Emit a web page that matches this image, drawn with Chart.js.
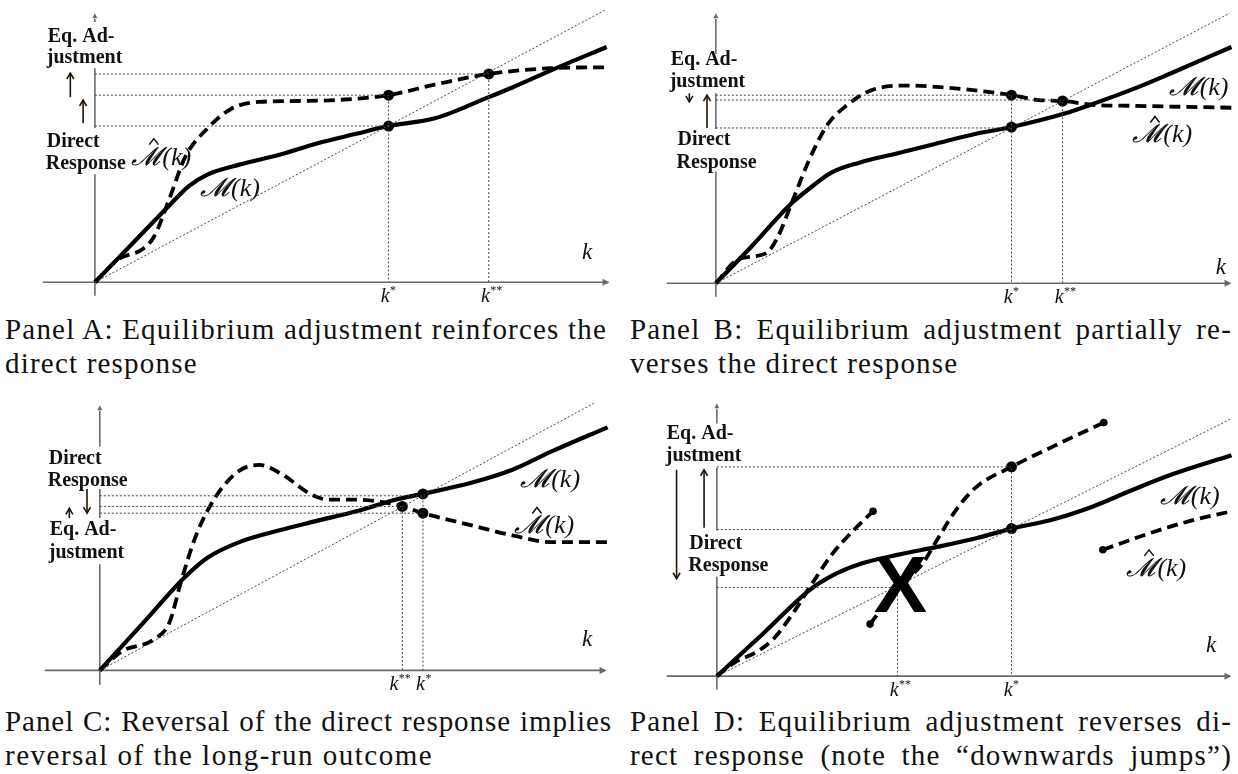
<!DOCTYPE html>
<html>
<head>
<meta charset="utf-8">
<script src="https://cdn.jsdelivr.net/npm/chart.js@4.4.1/dist/chart.umd.min.js"></script>
<style>
  body { margin: 0; background: #fff; width: 1238px; height: 774px; position: relative; overflow: hidden; }
  canvas { position: absolute; }
  .cap { position: absolute; font-family: "Liberation Serif", serif; font-size: 29px; line-height: 30px; letter-spacing: 1.2px; color: #111; white-space: nowrap; }
  .cap.j { text-align: justify; text-align-last: justify; }
</style>
</head>
<body>
<canvas id="panelA" width="620" height="310" style="left:0;top:0"></canvas>
<canvas id="panelB" width="618" height="310" style="left:620px;top:0"></canvas>
<canvas id="panelC" width="620" height="310" style="left:0;top:390px"></canvas>
<canvas id="panelD" width="618" height="310" style="left:620px;top:390px"></canvas>

<div class="cap j" style="left:5px;top:314px;width:600px">Panel A: Equilibrium adjustment reinforces the</div>
<div class="cap" style="left:5px;top:348px">direct response</div>
<div class="cap j" style="left:630px;top:314px;width:602px">Panel B: Equilibrium adjustment partially re-</div>
<div class="cap" style="left:630px;top:348px">verses the direct response</div>
<div class="cap j" style="left:5px;top:706px;width:607px;letter-spacing:0.95px">Panel C: Reversal of the direct response implies</div>
<div class="cap" style="left:5px;top:740px;letter-spacing:1.5px">reversal of the long-run outcome</div>
<div class="cap j" style="left:630px;top:706px;width:602px">Panel D: Equilibrium adjustment reverses di-</div>
<div class="cap j" style="left:630px;top:740px;width:602px">rect response (note the “downwards jumps”)</div>

<script>

// Panel A
const aSolid = [[0,0],[39,41],[76,80],[96,100],[115,112],[147,122],[187,132],[226,144],[266,154],[299,162],[346,170],[401,192],[425,202],[465,220],[521,244]];
const aDashed = [[0,0],[24,24],[48,34],[60,47],[76,87],[92,130],[115,160],[139,180],[167,187],[207,188],[246,189],[299,194],[346,205],[401,216],[465,222],[522,223]];
const aDiagonal = [[0,0],[519,282]];
const aDots = [[299,162],[299,194],[401,216]];
const aGuides = [[[0,216],[401,216],[401,0]], [[0,194],[299,194],[299,0]], [[0,162],[299,162]]];
const aKTicks = [['*',299,1],['**',401,1]];

// Panel B
const bSolid = [[0,0],[38,40],[75,81],[95,98],[118,115],[146,125],[186,135],[225,145],[265,155],[301,162],[355,176],[384,186],[424,201],[464,218],[525,245]];
const bDashed = [[0,0],[23,25],[51,31],[63,48],[79,88],[95,128],[114,165],[134,185],[158,200],[194,205],[233,203],[273,199],[301,195],[329,190],[353,189],[384,185],[424,184],[525,182]];
const bDiagonal = [[0,0],[523,280]];
const bDots = [[301,162],[301,195],[353,189]];
const bGuides = [[[0,195],[301,195],[301,0]], [[0,190],[353,190],[353,0]], [[0,161],[301,161]]];
const bKTicks = [['*',301,1],['**',353,1]];

// Panel C
const cSolid = [[0,0],[44,49],[87,97],[110,117],[142,133],[182,145],[221,155],[261,165],[301,177],[329,183],[380,195],[420,208],[460,227],[517,252]];
const cDashed = [[0,0],[23,20],[55,32],[71,50],[83,93],[98,140],[118,180],[142,207],[162,213],[186,203],[214,183],[233,177],[261,177],[285,175],[308,170],[329,163],[380,150],[420,140],[460,133],[517,133]];
const cDiagonal = [[0,0],[503,277]];
const cDots = [[329,183],[308,170],[329,163]];
const cGuides = [[[0,181],[329,181],[329,0]], [[0,170],[308,170],[308,0]], [[0,163],[329,163]]];
const cKTicks = [['**',308,-4],['*',329,2]];

// Panel D
const dSolid = [[0,0],[47,44],[94,89],[117,104],[145,116],[185,126],[224,134],[264,143],[300,153],[344,163],[383,176],[423,193],[463,209],[524,229]];
const dDashedLow = [[0,0],[18,14],[42,26],[58,39],[78,66],[97,96],[117,126],[137,149],[159,171]];
const dDashedMid = [[156,54],[185,93],[209,116],[224,141],[244,173],[264,196],[300,217],[344,239],[394,263]];
const dDashedHigh = [[393,131],[443,149],[482,161],[524,171]];
const dDiagonal = [[0,0],[524,267]];
const dDots = [[300,153],[300,217]];
const dEnds = [[159,171],[156,54],[394,263],[393,131]];
const dGuides = [[[0,217],[300,217],[300,0]], [[0,152],[300,152]], [[0,92],[184,92],[184,0]]];
const dKTicks = [['**',184,1],['*',300,1]];

const toPts = arr => arr.map(([x, y]) => ({ x, y }));

const INK = '#000';
const AXIS = '#6a6a6a';
const DOT = '#444';
const ARROW = '#231505';

function curve(data, dashed) {
  return {
    data: toPts(data), showLine: true, borderColor: INK, borderWidth: dashed ? 3.8 : 4.2,
    borderDash: dashed ? [11, 6] : [], pointRadius: 0, cubicInterpolationMode: 'monotone', borderCapStyle: 'butt'
  };
}
function thin(data) {
  return { data: toPts(data), showLine: true, borderColor: DOT, borderWidth: 1, borderDash: [2, 2], pointRadius: 0, tension: 0 };
}
function dots(data, r) {
  return { data: toPts(data), showLine: false, pointRadius: r, pointBackgroundColor: INK, pointBorderWidth: 0 };
}

// axes, arrows and labels drawn on top of the library scales
const sketch = {
  id: 'sketch',
  beforeDatasetsDraw(chart, args, o) {
    const { ctx, scales: { x, y } } = chart;
    const X = v => x.getPixelForValue(v), Y = v => y.getPixelForValue(v);
    ctx.save();
    ctx.strokeStyle = AXIS; ctx.fillStyle = AXIS; ctx.lineWidth = 1.6;
    // k axis
    const xr = X(o.xAxis[1]);
    ctx.beginPath(); ctx.moveTo(X(o.xAxis[0]), Y(0)); ctx.lineTo(xr - 2, Y(0)); ctx.stroke();
    ctx.beginPath(); ctx.moveTo(xr, Y(0)); ctx.lineTo(xr - 7, Y(0) - 3.5); ctx.lineTo(xr - 7, Y(0) + 3.5); ctx.closePath(); ctx.fill();
    // vertical axis with gaps where the text sits
    const yt = Y(o.yAxis[1]);
    let cuts = [o.yAxis[0], ...o.gaps.flat(), o.yAxis[1] - 6];
    for (let i = 0; i < cuts.length; i += 2) {
      ctx.beginPath(); ctx.moveTo(X(0), Y(cuts[i])); ctx.lineTo(X(0), Y(cuts[i + 1])); ctx.stroke();
    }
    ctx.lineWidth = 1.2;
    ctx.beginPath(); ctx.moveTo(X(0), yt); ctx.lineTo(X(0) - 2.5, yt + 5); ctx.lineTo(X(0) + 2.5, yt + 5); ctx.closePath(); ctx.fill();
    ctx.restore();
  },
  afterDatasetsDraw(chart, args, o) {
    const { ctx, scales: { x, y } } = chart;
    const X = v => x.getPixelForValue(v), Y = v => y.getPixelForValue(v);
    ctx.save();
    ctx.fillStyle = '#111';
    ctx.textBaseline = 'alphabetic';
    ctx.font = 'bold 20px "Liberation Serif"';
    ctx.textAlign = 'left';
    o.texts.forEach(([s, tx, ty]) => ctx.fillText(s, X(tx), Y(ty)));

    // k axis label
    ctx.font = 'italic 23px "Liberation Serif"';
    ctx.fillText('k', X(o.kLabel[0]), Y(o.kLabel[1]));

    // k* / k** under the axis
    o.kTicks.forEach(([stars, kx, dx]) => {
      const px = X(kx) + dx;
      ctx.font = 'italic 20px "Liberation Serif"';
      ctx.textAlign = 'right';
      ctx.fillText('k', px, Y(0) + 20);
      ctx.font = '12px "Liberation Serif"';
      ctx.textAlign = 'left';
      ctx.fillText(stars, px + 0.5, Y(0) + 12);
    });

    // M(k) and M-hat(k)
    ctx.textAlign = 'left';
    o.mLabels.forEach(([hat, mx, my]) => {
      const px = X(mx), py = Y(my);
      ctx.font = 'italic 26px "Liberation Serif"';
      ctx.fillText('𝓜', px, py);
      const w = ctx.measureText('𝓜').width;
      ctx.fillText('(k)', px + w + 2, py);
      if (hat) {
        ctx.strokeStyle = '#111'; ctx.lineWidth = 1.5;
        ctx.beginPath();
        ctx.moveTo(px + w * 0.62, py - 20); ctx.lineTo(px + w * 0.78, py - 26); ctx.lineTo(px + w * 0.94, py - 20);
        ctx.stroke();
      }
    });

    // small vertical arrows beside the labels
    ctx.strokeStyle = ARROW; ctx.lineWidth = 1.6;
    o.arrows.forEach(([ax, from, to]) => {
      const px = X(ax), p0 = Y(from), p1 = Y(to);
      const d = p1 < p0 ? 1 : -1;
      ctx.beginPath(); ctx.moveTo(px, p0); ctx.lineTo(px, p1); ctx.stroke();
      ctx.beginPath(); ctx.moveTo(px - 3.5, p1 + d * 6); ctx.lineTo(px, p1); ctx.lineTo(px + 3.5, p1 + d * 6); ctx.stroke();
    });

    // the crossed-out jump in panel D
    if (o.cross) {
      ctx.fillStyle = '#000';
      ctx.font = 'bold 80px "Liberation Sans"';
      ctx.textAlign = 'center'; ctx.textBaseline = 'middle';
      ctx.fillText('X', X(o.cross[0]), Y(o.cross[1]) + 3);
    }
    ctx.restore();
  }
};

function makePanel(id, ox, oy, w, h, datasets, marks) {
  new Chart(document.getElementById(id), {
    type: 'scatter',
    data: { datasets },
    options: {
      responsive: false, animation: false, events: [],
      layout: { padding: 0 },
      plugins: { legend: { display: false }, tooltip: { enabled: false }, sketch: marks },
      scales: {
        x: { type: 'linear', display: false, min: -ox, max: w - ox },
        y: { type: 'linear', display: false, min: oy - h, max: oy }
      }
    },
    plugins: [sketch]
  });
}

makePanel('panelA', 91, 287, 620, 310, [
  thin(aDiagonal), ...aGuides.map(thin), curve(aDashed, true), curve(aSolid, false), dots(aDots, 5.5)
], {
  xAxis: [-53, 524], yAxis: [-14, 279], gaps: [[112, 160], [222, 270]],
  texts: [['Eq. Ad-', -48, 249], ['justment', -49, 227], ['Direct', -49, 140], ['Response', -50, 117]],
  arrows: [[-25, 192, 217], [-12, 165, 189]],
  kLabel: [496, 24], kTicks: aKTicks,
  mLabels: [[true, 37, 122], [false, 107, 90]]
});

makePanel('panelB', 92, 288, 618, 310, [
  thin(bDiagonal), ...bGuides.map(thin), curve(bDashed, true), curve(bSolid, false), dots(bDots, 5.5)
], {
  xAxis: [-50, 525], yAxis: [-14, 280], gaps: [[116, 160], [197, 238]],
  texts: [['Eq. Ad-', -46, 226], ['justment', -47, 203], ['Direct', -39, 143], ['Response', -40, 120]],
  arrows: [[-27, 197, 188], [-9, 161, 195]],
  kLabel: [509, 10], kTicks: bKTicks,
  mLabels: [[false, 461, 195], [true, 424, 146]]
});

makePanel('panelC', 96, 285, 620, 310, [
  thin(cDiagonal), ...cGuides.map(thin), curve(cDashed, true), curve(cSolid, false), dots(cDots, 5.5)
], {
  xAxis: [-56, 516], yAxis: [-15, 275], gaps: [[110, 158], [188, 232]],
  texts: [['Direct', -52, 214], ['Response', -53, 191], ['Eq. Ad-', -51, 140], ['justment', -52, 117]],
  arrows: [[-13, 188, 163], [-31, 158, 168]],
  kLabel: [491, 25], kTicks: cKTicks,
  mLabels: [[false, 428, 190], [true, 422, 142]]
});

makePanel('panelD', 93, 291, 618, 310, [
  thin(dDiagonal), ...dGuides.map(thin), curve(dDashedLow, true), curve(dDashedMid, true), curve(dDashedHigh, true),
  curve(dSolid, false), dots(dDots, 5.5), dots(dEnds, 3.8)
], {
  xAxis: [-51, 524], yAxis: [-14, 283], gaps: [[103, 151], [216, 262]],
  texts: [['Eq. Ad-', -51, 246], ['justment', -52, 223], ['Direct', -28, 132], ['Response', -29, 109]],
  arrows: [[-41, 214, 101], [-13, 154, 214]],
  kLabel: [498, 25], kTicks: dKTicks,
  mLabels: [[false, 451, 178], [true, 417, 104]],
  cross: [187, 93]
});
</script>
</body>
</html>
